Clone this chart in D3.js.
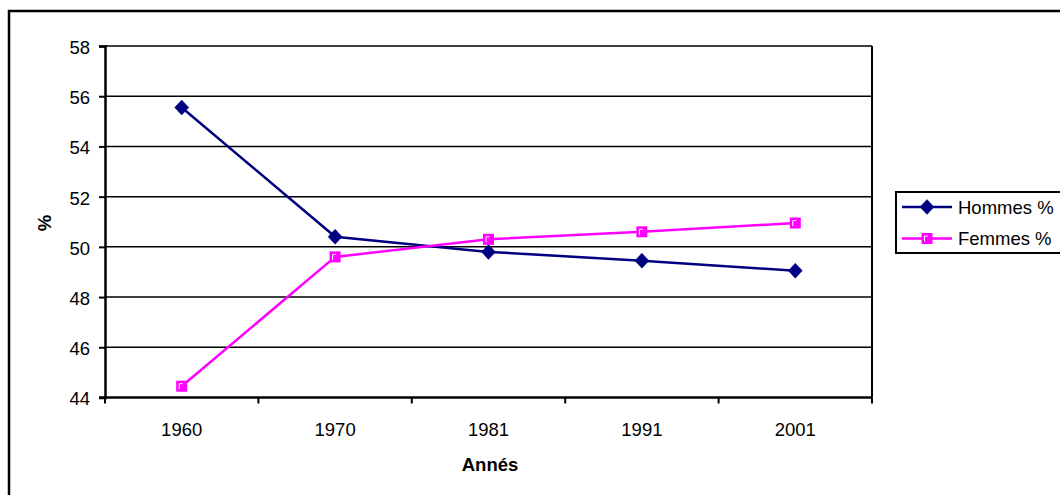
<!DOCTYPE html>
<html>
<head>
<meta charset="utf-8">
<script src="https://cdn.jsdelivr.net/npm/d3@7"></script>
<style>
  html, body { margin: 0; padding: 0; background: #fff; }
  svg { display: block; font-family: Arial, "Liberation Sans", sans-serif; }
</style>
</head>
<body>
<svg id="chart" width="1060" height="495"></svg>
<script>
// Population par sexe (%)
const years = ["1960", "1970", "1981", "1991", "2001"];
const hommes = [55.55, 50.4, 49.8, 49.45, 49.05];
const femmes = [44.45, 49.6, 50.3, 50.6, 50.95];
const yTicks = [44, 46, 48, 50, 52, 54, 56, 58];
const seriesNames = ["Hommes %", "Femmes %"];

const svg = d3.select("#chart");

// outer chart frame
svg.append("rect")
  .attr("x", 9).attr("y", 11)
  .attr("width", 1100).attr("height", 600)
  .attr("fill", "none").attr("stroke", "#000").attr("stroke-width", 2.5);

const plot = { left: 105, top: 46, right: 872, bottom: 397.5 };

const x = d3.scaleBand().domain(years).range([plot.left, plot.right]).padding(0);
const y = d3.scaleLinear().domain([44, 58]).range([plot.bottom, plot.top]);

// horizontal gridlines
svg.append("g")
  .selectAll("line")
  .data(yTicks.filter(t => t > 44))
  .join("line")
  .attr("x1", plot.left).attr("x2", plot.right)
  .attr("y1", d => y(d)).attr("y2", d => y(d))
  .attr("stroke", "#000").attr("stroke-width", 1.5);

// right border of plot area
svg.append("line")
  .attr("x1", plot.right).attr("x2", plot.right)
  .attr("y1", plot.top).attr("y2", plot.bottom)
  .attr("stroke", "#000").attr("stroke-width", 2);

// y axis
const yAxis = svg.append("g")
  .attr("transform", `translate(${plot.left},0)`)
  .call(d3.axisLeft(y).tickValues(yTicks).tickSize(6).tickPadding(9).tickFormat(d3.format("d")));
yAxis.select(".domain").attr("stroke", "#000").attr("stroke-width", 2.5);
yAxis.selectAll(".tick line").attr("stroke", "#000").attr("stroke-width", 2);
yAxis.selectAll(".tick text")
  .attr("font-size", 18.5).attr("fill", "#000")
  .attr("font-family", "Arial, 'Liberation Sans', sans-serif")
  .attr("dy", "0.4em");

// x axis: ticks sit between categories
const xAxis = svg.append("g")
  .attr("transform", `translate(0,${plot.bottom})`);
xAxis.append("line")
  .attr("x1", plot.left - 6).attr("x2", plot.right)
  .attr("y1", 0).attr("y2", 0)
  .attr("stroke", "#000").attr("stroke-width", 2.5);
const boundaries = years.map(d => x(d)).concat([x(years[years.length - 1]) + x.bandwidth()]);
xAxis.selectAll("line.tk")
  .data(boundaries)
  .join("line")
  .attr("class", "tk")
  .attr("x1", d => d).attr("x2", d => d)
  .attr("y1", 0).attr("y2", 6)
  .attr("stroke", "#000").attr("stroke-width", 2);
xAxis.selectAll("text")
  .data(years)
  .join("text")
  .attr("x", d => x(d) + x.bandwidth() / 2)
  .attr("y", 38.5)
  .attr("text-anchor", "middle")
  .attr("font-size", 18.5)
  .text(d => d);

// axis titles
svg.append("text")
  .attr("x", 490).attr("y", 470.5)
  .attr("text-anchor", "middle")
  .attr("font-size", 18.5).attr("font-weight", "bold")
  .text("Annés");
svg.append("text")
  .attr("transform", "translate(51,223) rotate(-90)")
  .attr("text-anchor", "middle")
  .attr("font-size", 18.5).attr("font-weight", "bold")
  .text("%");

const cx = d => x(d) + x.bandwidth() / 2;
const line = d3.line().x(d => cx(d.year)).y(d => y(d.value));

const series = [
  { name: seriesNames[0], values: hommes, color: "#000080", marker: "diamond" },
  { name: seriesNames[1], values: femmes, color: "#FF00FF", marker: "square" }
];

function drawMarker(g, type, color) {
  if (type === "diamond") {
    g.append("path")
      .attr("d", "M0,-7.5 L7,0 L0,7.5 L-7,0 Z")
      .attr("fill", color).attr("stroke", color).attr("stroke-width", 0.5);
  } else {
    g.append("rect")
      .attr("x", -5.5).attr("y", -5.5).attr("width", 11).attr("height", 11)
      .attr("fill", color);
    g.append("path")
      .attr("d", "M-2.5,3 L-2.5,-2.5 L1,-2.5")
      .attr("fill", "none").attr("stroke", "#fff").attr("stroke-width", 1);
  }
}

series.forEach(s => {
  const pts = years.map((yr, i) => ({ year: yr, value: s.values[i] }));
  svg.append("path")
    .datum(pts)
    .attr("d", line)
    .attr("fill", "none")
    .attr("stroke", s.color)
    .attr("stroke-width", 2.5);
  pts.forEach(p => {
    const g = svg.append("g").attr("transform", `translate(${cx(p.year)},${y(p.value)})`);
    drawMarker(g, s.marker, s.color);
  });
});

// legend
const legend = svg.append("g");
legend.append("rect")
  .attr("x", 896).attr("y", 192)
  .attr("width", 200).attr("height", 61)
  .attr("fill", "#fff").attr("stroke", "#000").attr("stroke-width", 2);
series.forEach((s, i) => {
  const ly = 207 + i * 31.5;
  legend.append("line")
    .attr("x1", 902).attr("x2", 952)
    .attr("y1", ly).attr("y2", ly)
    .attr("stroke", s.color).attr("stroke-width", 2.5);
  const g = legend.append("g").attr("transform", `translate(927,${ly})`);
  drawMarker(g, s.marker, s.color);
  legend.append("text")
    .attr("x", 958).attr("y", ly + 6.5)
    .attr("font-size", 18.5)
    .text(s.name);
});
</script>
</body>
</html>
